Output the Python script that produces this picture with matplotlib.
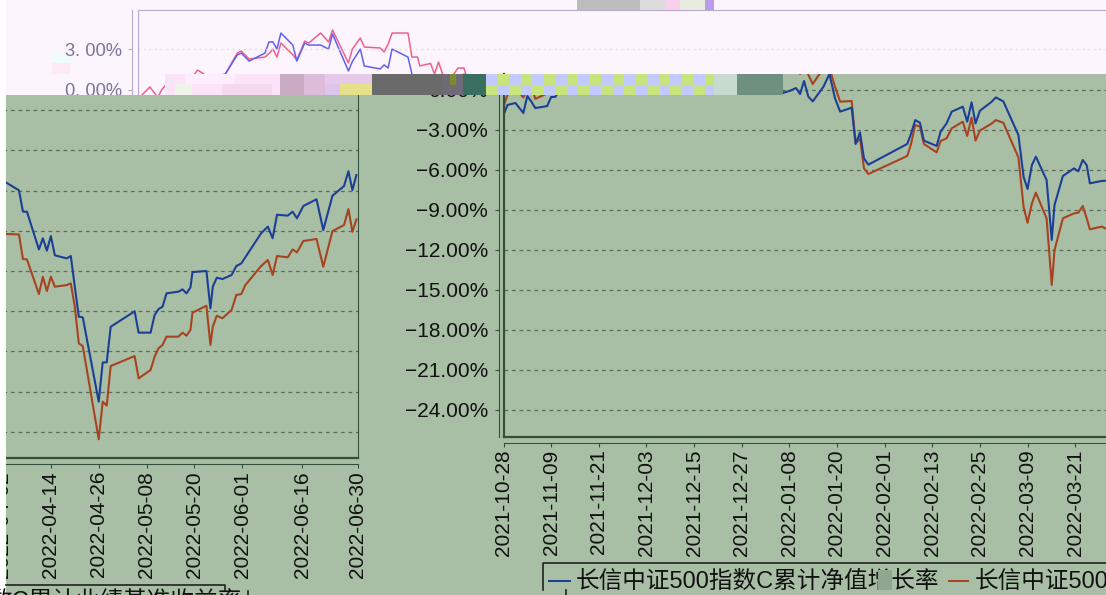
import matplotlib
matplotlib.use('Agg')
import matplotlib.pyplot as plt
from matplotlib.patches import Rectangle

plt.rcParams['font.family'] = ['Liberation Sans', 'Noto Sans CJK SC', 'DejaVu Sans']

W, H = 1106, 595
GREEN = '#a9bfa5'
PINK = '#fdf5fd'
DARK = '#33503a'

# first chart: days since 2021-10-28, values in percent
right_days = [0, 1, 3, 5, 6, 7, 8, 11, 12, 13, 15, 18, 22, 25, 26, 28, 32, 33, 34, 35, 36, 39, 40, 42, 43,
              46, 48, 49, 53, 54, 56, 57, 61, 62, 63, 64, 68, 69, 70.4, 71, 72.2, 73.7, 74.7, 75.7, 76.8,
              77.9, 80.6, 82.1, 83.5, 84.8, 87.7, 88.7, 89.8, 90.8, 91.9, 101.7, 102.7, 103.7, 104.9, 105.9,
              109.1, 110.1, 111.6, 112.9, 115.7, 116.8, 117.9, 118.9, 120, 123, 124, 125.9, 129.7, 131, 132,
              133.1, 134.1, 136.8, 138.1, 138.8, 140.9, 143.7, 144.8, 145.9, 146.9, 147.7, 150.7, 152]
right_nav = [-1.91, -1.16, -1.01, -1.76, -0.49, -0.9, -1.39, -1.24, -0.56, -0.56, 0.3, 0.6, 1.16, 2.58, 2.73,
             2.13, 2.73, 3.56, 3.56, 3.03, 4.23, 3.33, 2.13, 3.48, 3.33, 3.33, 3.03, 4.16, 1.39, 2.1, 3.03,
             1.76, 1.54, 1.84, 1.61, 3.03, 2.43, 1.16, -0.26, -0.2, -0.09, 0.11, -0.34, 0.64, -0.54, -0.89,
             0.21, 1.16, -0.66, -1.66, -1.36, -4.08, -3.21, -5.16, -5.63, -4.08, -3.28, -2.29, -2.49, -3.83,
             -4.23, -3.16, -2.54, -1.66, -1.29, -2.41, -0.96, -2.54, -1.59, -0.91, -0.59, -0.89, -3.41, -6.53,
             -7.45, -5.66, -5.03, -6.78, -11.27, -8.65, -6.48, -5.91, -6.13, -5.28, -5.66, -7.03, -6.85, -6.83]
right_bench = [-1.24, -0.41, 0.19, -0.6, 0.0, 0.34, -0.7, -0.3, 0.3, 0.6, 1.46, 0.9, 1.16, 2.73, 2.88, 2.28,
               2.43, 2.7, 3.03, 2.43, 3.48, 2.6, 2.21, 3.63, 3.48, 4.23, 3.56, 4.46, 1.99, 3.03, 3.86, 3.18,
               3.11, 2.81, 3.4, 4.23, 4.23, 2.43, 2.43, 1.76, 1.85, 1.95, 1.16, 2.06, 1.09, 0.41, 1.61, 1.61,
               0.21, -0.91, -0.86, -4.03, -3.66, -5.9, -6.33, -4.98, -4.03, -2.66, -2.78, -4.08, -4.71, -3.86,
               -3.66, -2.91, -2.41, -3.48, -2.11, -3.83, -3.08, -2.54, -2.29, -2.49, -5.08, -8.78, -9.98,
               -8.53, -7.73, -9.65, -14.64, -12.02, -9.65, -9.28, -9.23, -8.73, -9.65, -10.47, -10.27, -10.47]
right_tick_days = [0, 12, 24, 36, 48, 60, 72, 84, 96, 108, 120, 132, 144]
right_tick_labels = ['2021-10-28', '2021-11-09', '2021-11-21', '2021-12-03', '2021-12-15', '2021-12-27',
                     '2022-01-08', '2022-01-20', '2022-02-01', '2022-02-13', '2022-02-25', '2022-03-09',
                     '2022-03-21']
right_y_ticks = [0, -3, -6, -9, -12, -15, -18, -21, -24]

# second chart: days since 2022-04-02
left_days = [0.75, 4, 5, 6, 9, 10, 11, 12, 13, 16, 17, 18, 19, 20, 24, 25, 26, 27, 33, 34, 37, 38, 39, 40, 41,
             44, 45, 46, 47, 47.5, 51, 52, 52.6, 53.6, 55, 57.3, 58.5, 59.75, 60.75, 64.7, 66.4, 67.6, 68.7,
             71.4, 72.6, 73.7, 75.3, 78.6, 80.3, 82.6, 85.5, 86.6, 87.6, 88.6]
left_nav = [-8.39, -8.98, -10.57, -10.57, -13.39, -12.56, -13.48, -12.39, -13.83, -14.06, -13.88, -16.17,
            -18.41, -18.46, -24.75, -21.82, -21.82, -19.16, -18.01, -19.6, -19.6, -18.29, -17.84, -17.66,
            -16.67, -16.54, -16.37, -16.67, -16.22, -15.08, -15.0, -17.79, -16.17, -15.5, -15.6, -15.3,
            -14.63, -14.43, -13.98, -12.19, -11.69, -12.56, -10.8, -10.87, -10.57, -11.07, -10.15, -9.65,
            -11.94, -9.38, -8.66, -7.56, -8.96, -7.84]
left_bench = [-12.24, -12.27, -14.11, -14.13, -16.72, -15.43, -16.5, -15.43, -16.17, -16.05, -15.92, -17.66,
              -20.4, -20.6, -27.56, -24.75, -25.05, -22.09, -21.35, -23.01, -22.39, -21.4, -20.77, -20.52,
              -19.9, -19.9, -19.6, -19.83, -19.4, -18.11, -17.59, -20.52, -19.16, -18.34, -18.53, -17.91,
              -16.79, -16.72, -16.05, -14.63, -14.18, -15.3, -13.88, -13.98, -13.39, -13.61, -12.76, -12.61,
              -14.68, -12.02, -11.57, -10.38, -12.07, -11.15]
left_tick_days = [0, 12, 24, 36, 48, 60, 75, 89]
left_tick_labels = ['2022-04-02', '2022-04-14', '2022-04-26', '2022-05-08', '2022-05-20', '2022-06-01',
                    '2022-06-16', '2022-06-30']
left_y_ticks = [-3, -6, -9, -12, -15, -18, -21, -24, -27]

legend_nav = '长信中证500指数C累计净值增长率'
legend_bench = '长信中证500指数C累计业绩基准收益率'

fig = plt.figure(figsize=(W / 100, H / 100), dpi=100, facecolor='white')


def px_axes(left, top, right, bottom, z):
    ax = fig.add_axes([left / W, 1 - bottom / H, (right - left) / W, (bottom - top) / H], zorder=z)
    ax.patch.set_alpha(0)
    return ax


def layer(z):
    ax = px_axes(0, 0, W, H, z)
    ax.set_xlim(0, W)
    ax.set_ylim(H, 0)
    ax.axis('off')
    return ax


def box(ax, x0, y0, x1, y1, color, z=1):
    ax.add_patch(Rectangle((x0, y0), x1 - x0, y1 - y0, facecolor=color, edgecolor='none', zorder=z))


def checker(ax, x0, x1, y0, y1, cell, c1, c2):
    mid = (y0 + y1) / 2
    x = x0
    n = 0
    while x < x1:
        box(ax, x, y0, min(x + cell, x1), mid, c1 if n % 2 == 0 else c2)
        box(ax, x, mid, min(x + cell, x1), y1, c2 if n % 2 == 0 else c1)
        x += cell
        n += 1


# background and pink band
back = layer(0)
box(back, 6, 0, W, 95, PINK)
box(back, 54, 54, 72, 63, '#eefcfc')
box(back, 52, 63, 70, 74, '#fdeaf5')

# pink chart on top, same data as the green one
pink = px_axes(138, 10, W, 437, 1)
# moving a spine resets its ticks, so this comes first
pink.spines['left'].set_position(('outward', 4.3))
pink.set_xlim(0, (W - 138) / 3.97)
pink.set_ylim((89.5 - 437) / 13.35, (89.5 - 10) / 13.35)
pink.plot(right_days, right_bench, color='#f0608c', lw=1.1)
pink.plot(right_days, right_nav, color='#5f60ee', lw=1.1)
pink.set_yticks([3, 0])
pink.set_yticklabels(['3. 00%', '0. 00%'], color='#7d7597', fontsize=13.2)
pink.set_xticks([])
pink.axhline(3, color='#d8d0e8', lw=1, ls=(0, (1, 3)))
pink.spines['left'].set_color('#b6aacb')
pink.spines['top'].set_color('#b6aacb')
pink.spines['right'].set_visible(False)
pink.spines['bottom'].set_visible(False)
pink.axvline(0, color='#b6aacb', lw=1.6)
pink.tick_params(axis='y', color='#b6aacb', length=3, pad=4)

# green page
under = layer(2)
box(under, 6, 95, W, H, GREEN)
box(under, 783, 74, W, 95, GREEN)

# right chart
right = px_axes(503.5, 74, W, 437, 3)
right.spines['left'].set_position(('outward', 3.2))
right.spines['bottom'].set_position(('outward', 4))
right.set_xlim(0, (W - 503.5) / 3.97)
right.set_ylim((89.5 - 437) / 13.35, (89.5 - 74) / 13.35)
right.plot(right_days, right_bench, color='#a8431f', lw=1.5)
right.plot(right_days, right_nav, color='#1c3f96', lw=1.5)
right.set_yticks(right_y_ticks)
right.set_yticklabels([('%.2f%%' % v).replace('-', '\u2212') for v in right_y_ticks], fontsize=15, color='#111111')
right.set_xticks(right_tick_days)
right.set_xticklabels(right_tick_labels, rotation=90, fontsize=15, color='#111111')
right.spines['right'].set_visible(False)
right.axvline(0, color=DARK, lw=1.6, clip_on=False)

# left chart
left = px_axes(3, 95, 358, 458, 3)
left.spines['bottom'].set_position(('outward', 4.3))
left.set_xlim(0, 89)
left.set_ylim((70 - 458) / 13.4, (70 - 95) / 13.4)
left.plot(left_days, left_bench, color='#a8431f', lw=1.5)
left.plot(left_days, left_nav, color='#1c3f96', lw=1.5)
left.set_yticks(left_y_ticks)
left.set_xticks(left_tick_days)
left.set_xticklabels(left_tick_labels, rotation=90, fontsize=15, color='#111111')
left.tick_params(axis='y', left=False, labelleft=False)
left.spines['right'].set_color(DARK)

for ax in (right, left):
    ax.grid(axis='y', color='#5c6b5c', lw=0.9, ls=(0, (3, 3)))
    ax.spines['top'].set_visible(False)
    ax.spines['bottom'].set_color(DARK)
    ax.spines['left'].set_color(DARK)
    ax.axhline(ax.get_ylim()[0], color=DARK, lw=1.6, clip_on=False)
    ax.tick_params(color=DARK, length=3, pad=2)
right.tick_params(axis='y', pad=5)

# broken strip and cover layers
top = layer(4)
box(top, 0, 0, 6, H, 'white')
box(top, 165, 74, 280, 95, '#fbe4f8')
box(top, 185, 74, 235, 84, '#fdeefd')
box(top, 175, 84, 192, 95, '#eef4e8')
box(top, 222, 84, 272, 95, '#f3d8ee')
box(top, 280, 74, 304, 95, '#c9abc4')
box(top, 304, 74, 325, 95, '#dcbcd8')
box(top, 325, 74, 372, 84, '#e6c8e8')
box(top, 325, 84, 340, 95, '#dcc4ea')
box(top, 340, 84, 372, 95, '#e6e08a')
box(top, 372, 74, 443, 95, '#6a6a6a')
box(top, 443, 74, 463, 95, '#6f6a78')
box(top, 450, 74, 456, 85, '#7c8a30')
box(top, 463, 74, 486, 95, '#3a6f60')
checker(top, 486, 714, 74, 95, 11.5, '#c3caff', '#c9e47c')
box(top, 714, 74, 737, 95, '#c7dccf')
box(top, 737, 74, 783, 95, '#6f8f7f')
box(top, 577, 0, 665, 10, '#bdbdbd')
box(top, 640, 0, 665, 10, '#dcdcdc')
box(top, 665, 0, 680, 10, '#f8d0ec')
box(top, 680, 0, 705, 10, '#e8ece0')
box(top, 705, 0, 714, 10, '#b79ce8')

# legends, cut off by the page edge
top.plot([6, 225, 225], [585, 585, 590], color='#222222', lw=1.2)
top.plot([248, 248], [591, 595], color='#222222', lw=1.2)
top.text(241, 590.5, legend_bench[8:], ha='right', va='top', fontsize=17, color='#111111', clip_on=True)
top.plot([543, 543, W], [590, 563, 563], color='#222222', lw=1.2)
top.plot([566, 566], [590, 595], color='#222222', lw=1.2)
top.plot([549, 570], [581, 581], color='#1c3f96', lw=1.4)
top.plot([949, 968], [581, 581], color='#a8431f', lw=1.4)
top.text(576, 582, legend_nav, va='center', fontsize=17, color='#111111')
top.text(975, 582, legend_bench, va='center', fontsize=17, color='#111111', clip_on=True)
box(top, 878, 570, 892, 590, '#8fa68f', z=5)

fig.savefig('out.png', dpi=100)
